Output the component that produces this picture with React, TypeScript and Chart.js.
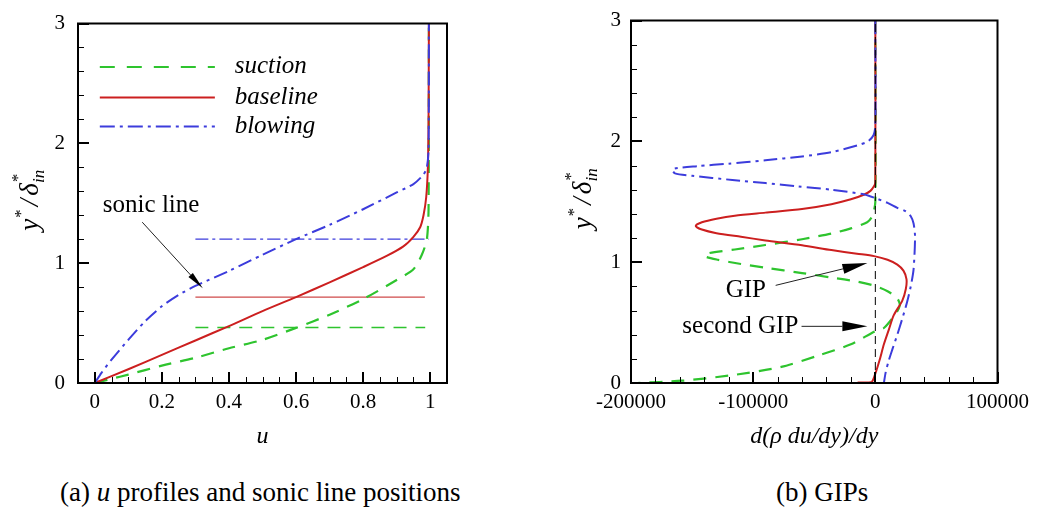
import React, { useEffect, useRef } from 'react';
import { Chart, registerables } from 'chart.js';

Chart.register(...registerables);

const FONT = '"Liberation Serif", "Times New Roman", serif';
const GREEN = '#2ec42e';
const RED = '#cc1f1f';
const BLUE = '#3c3cdc';

// ---------- panel (a): u profiles ----------
const uSuction = [0, 0.05, 0.1, 0.2, 0.3, 0.4, 0.5, 0.6, 0.7, 0.8, 0.9, 0.95, 0.975, 0.99, 0.995, 0.996];
const ySuction = [0, 0.035, 0.07, 0.145, 0.21, 0.29, 0.36, 0.46, 0.57, 0.7, 0.86, 0.95, 1.07, 1.2, 1.45, 3];

const uBaseline = [0, 0.1, 0.2, 0.3, 0.4, 0.5, 0.6, 0.7, 0.8, 0.87, 0.92, 0.95, 0.97, 0.98, 0.988, 0.993, 0.995, 0.996];
const yBaseline = [0, 0.115, 0.235, 0.355, 0.475, 0.6, 0.717, 0.84, 0.967, 1.06, 1.14, 1.22, 1.3, 1.4, 1.55, 1.8, 2.2, 3];

const uBlowing = [0, 0.02, 0.05, 0.1, 0.15, 0.2, 0.25, 0.3, 0.4, 0.5, 0.6, 0.7, 0.8, 0.9, 0.95, 0.98, 0.99, 0.995, 0.996];
const yBlowing = [0, 0.085, 0.195, 0.36, 0.515, 0.64, 0.735, 0.81, 0.935, 1.07, 1.2, 1.32, 1.45, 1.59, 1.66, 1.74, 1.8, 1.95, 3];

// sonic line positions (suction, baseline, blowing)
const sonicStartU = [0.3, 0.3, 0.3];
const sonicEndU = [0.985, 0.984, 0.996];
const sonicY = [0.463, 0.717, 1.2];

const uTickValues = [0, 0.2, 0.4, 0.6, 0.8, 1];
const uTickLabels = ['0', '0.2', '0.4', '0.6', '0.8', '1'];
const yTickValues = [0, 1, 2, 3];
const yTickLabels = ['0', '1', '2', '3'];

// ---------- panel (b): GIPs ----------
const gSuction = [0, 0, -2500, -6700, -20000, -36000, -60000, -90000, -115000, -136000, -140000, -129000, -110000, -90000, -60000, -36000, -15000, -1000, 10000, 18000, 20000, 16000, 7000, 0, -20000, -47000, -77000, -117000, -158000, -195000];
const gySuction = [3, 1.5, 1.38, 1.33, 1.28, 1.237, 1.19, 1.142, 1.105, 1.075, 1.05, 1.02, 0.985, 0.954, 0.91, 0.873, 0.84, 0.806, 0.76, 0.7, 0.64, 0.563, 0.455, 0.43, 0.32, 0.226, 0.133, 0.065, 0.019, 0];

const gBaseline = [0, 0, -1000, -4000, -9000, -20000, -36000, -60000, -90000, -115000, -130000, -142000, -147000, -142000, -130000, -110000, -90000, -60000, -36000, -15000, -1000, 10000, 18000, 23000, 25500, 25000, 22000, 15000, 11000, 7000, 3500, 0, -3000, -14500];
const gyBaseline = [3, 1.66, 1.63, 1.59, 1.56, 1.52, 1.48, 1.44, 1.41, 1.385, 1.36, 1.33, 1.3, 1.27, 1.24, 1.21, 1.18, 1.14, 1.1, 1.07, 1.05, 1.02, 0.98, 0.93, 0.86, 0.78, 0.68, 0.56, 0.44, 0.32, 0.19, 0.078, 0.01, 0.005];

const gBlowing = [0, 0, -1500, -6000, -15000, -36000, -60000, -90000, -120000, -145000, -166000, -164000, -150000, -117000, -90000, -63000, -36000, -9000, 0, 10000, 18000, 25000, 29000, 31300, 32500, 31300, 29000, 26000, 22000, 18000, 14000, 11000, 8500, 7000];
const gyBlowing = [3, 2.13, 2.05, 2.0, 1.965, 1.91, 1.875, 1.843, 1.815, 1.795, 1.77, 1.735, 1.715, 1.68, 1.655, 1.627, 1.6, 1.56, 1.53, 1.49, 1.45, 1.42, 1.38, 1.32, 1.21, 0.94, 0.8, 0.67, 0.53, 0.4, 0.28, 0.186, 0.09, 0];

const gZeroX = [0, 0];
const gZeroY = [0, 3];

const gTickValues = [-200000, -100000, 0, 100000];
const gTickLabels = ['-200000', '-100000', '0', '100000'];

// ---------- helpers ----------
const pts = (xs: number[], ys: number[]) => xs.map((x, i) => ({ x, y: ys[i] }));

function drawArrow(ctx: CanvasRenderingContext2D, x1: number, y1: number, x2: number, y2: number, headLen: number, headW: number) {
  const ang = Math.atan2(y2 - y1, x2 - x1);
  const bx = x2 - headLen * Math.cos(ang);
  const by = y2 - headLen * Math.sin(ang);
  ctx.save();
  ctx.strokeStyle = '#222';
  ctx.fillStyle = '#000';
  ctx.lineWidth = 1;
  ctx.beginPath();
  ctx.moveTo(x1, y1);
  ctx.lineTo(bx, by);
  ctx.stroke();
  ctx.beginPath();
  ctx.moveTo(x2, y2);
  ctx.lineTo(bx + (headW / 2) * Math.sin(ang), by - (headW / 2) * Math.cos(ang));
  ctx.lineTo(bx - (headW / 2) * Math.sin(ang), by + (headW / 2) * Math.cos(ang));
  ctx.closePath();
  ctx.fill();
  ctx.restore();
}

function drawYTitle(ctx: CanvasRenderingContext2D, cx: number, cy: number) {
  ctx.save();
  ctx.translate(cx, cy);
  ctx.rotate(-Math.PI / 2);
  ctx.fillStyle = '#000';
  ctx.textBaseline = 'alphabetic';
  ctx.textAlign = 'left';
  const big = `italic 27px ${FONT}`;
  const small = `italic 17px ${FONT}`;
  ctx.font = big;
  const wy = ctx.measureText('y').width;
  const wsl = ctx.measureText('/').width;
  const wd = ctx.measureText('δ').width;
  ctx.font = small;
  const wst = ctx.measureText('*').width;
  const win = ctx.measureText('in').width;
  const total = wy + wst + 4 + wsl + 3 + wd + Math.max(wst, win);
  let x = -total / 2;
  const base = 8;
  ctx.font = big;
  ctx.fillText('y', x, base);
  x += wy;
  ctx.font = small;
  ctx.fillText('*', x, base - 12);
  x += wst + 4;
  ctx.font = big;
  ctx.fillText('/', x, base);
  x += wsl + 3;
  ctx.fillText('δ', x, base);
  x += wd;
  ctx.font = small;
  ctx.fillText('*', x, base - 15);
  ctx.fillText('in', x, base + 6);
  ctx.restore();
}

type LegendItem = { label: string; color: string; dash: number[]; y: number };

function makeFramePlugin(cfg: {
  xMinor: number[];
  yMinor: number[];
  xMajor: number[];
  yMajor: number[];
  xTitle: string;
  annotate: (chart: any, ctx: CanvasRenderingContext2D) => void;
}) {
  return {
    id: 'frame',
    afterDatasetsDraw(chart: any) {
      cfg.annotate(chart, chart.ctx);
    },
    afterDraw(chart: any) {
      const ctx: CanvasRenderingContext2D = chart.ctx;
      const a = chart.chartArea;
      const xs = chart.scales.x;
      const ys = chart.scales.y;
      ctx.save();
      ctx.strokeStyle = '#000';
      // minor ticks
      ctx.lineWidth = 1;
      ctx.beginPath();
      cfg.xMinor.forEach((v) => {
        const px = Math.round(xs.getPixelForValue(v)) + 0.5;
        ctx.moveTo(px, a.bottom);
        ctx.lineTo(px, a.bottom - 6);
      });
      cfg.yMinor.forEach((v) => {
        const py = Math.round(ys.getPixelForValue(v)) + 0.5;
        ctx.moveTo(a.left, py);
        ctx.lineTo(a.left + 6, py);
      });
      ctx.stroke();
      // major ticks
      ctx.lineWidth = 2;
      ctx.beginPath();
      cfg.xMajor.forEach((v) => {
        const px = Math.round(xs.getPixelForValue(v));
        ctx.moveTo(px, a.bottom);
        ctx.lineTo(px, a.bottom - 11);
      });
      cfg.yMajor.forEach((v) => {
        const py = Math.round(ys.getPixelForValue(v));
        ctx.moveTo(a.left, py);
        ctx.lineTo(a.left + 11, py);
      });
      ctx.stroke();
      // box
      ctx.lineWidth = 2;
      ctx.strokeRect(a.left, a.top, a.right - a.left, a.bottom - a.top);
      // titles
      ctx.fillStyle = '#000';
      ctx.font = `italic 24px ${FONT}`;
      ctx.textAlign = 'center';
      ctx.textBaseline = 'middle';
      ctx.fillText(cfg.xTitle, (a.left + a.right) / 2, a.bottom + 54);
      drawYTitle(ctx, a.left - 48, (a.top + a.bottom) / 2 - 3);
      ctx.restore();
    },
  };
}

const range = (from: number, to: number, step: number) => {
  const out: number[] = [];
  const n = Math.round((to - from) / step);
  for (let i = 0; i <= n; i++) out.push(+(from + i * step).toFixed(6));
  return out;
};

const legendItems: LegendItem[] = [
  { label: 'suction', color: GREEN, dash: [15, 12], y: 2.638 },
  { label: 'baseline', color: RED, dash: [], y: 2.382 },
  { label: 'blowing', color: BLUE, dash: [15, 5, 3, 5], y: 2.14 },
];
const legendLineU = [0.015, 0.358];
const legendTextU = 0.417;

function curve(data: { x: number; y: number }[], color: string, dash: number[], width: number) {
  return {
    data,
    borderColor: color,
    borderWidth: width,
    borderDash: dash,
    pointRadius: 0,
    tension: 0.25,
    fill: false,
  };
}

function baseOptions(xMin: number, xMax: number, xTicks: number[], xLabels: string[], yPadWidth: number, yLabelPad: number, padRight: number, plugin: any) {
  return {
    type: 'line' as const,
    options: {
      responsive: false,
      animation: false as const,
      devicePixelRatio: 1,
      layout: { padding: { left: 0, right: padRight, top: 12, bottom: 0 } },
      plugins: { legend: { display: false }, tooltip: { enabled: false } },
      scales: {
        x: {
          type: 'linear' as const,
          min: xMin,
          max: xMax,
          grid: { display: false, drawTicks: false },
          border: { display: false },
          afterBuildTicks: (s: any) => {
            s.ticks = xTicks.map((v) => ({ value: v }));
          },
          afterFit: (s: any) => {
            s.height = 67;
          },
          ticks: {
            autoSkip: false,
            maxRotation: 0,
            padding: 9,
            color: '#000',
            font: { family: FONT, size: 21, lineHeight: 1 },
            callback: (v: any) => {
              const i = xTicks.indexOf(Number(v));
              return i >= 0 ? xLabels[i] : '';
            },
          },
        },
        y: {
          type: 'linear' as const,
          min: 0,
          max: 3,
          grid: { display: false, drawTicks: false },
          border: { display: false },
          afterBuildTicks: (s: any) => {
            s.ticks = yTickValues.map((v) => ({ value: v }));
          },
          afterFit: (s: any) => {
            s.width = yPadWidth;
          },
          ticks: {
            autoSkip: false,
            padding: yLabelPad,
            color: '#000',
            font: { family: FONT, size: 21, lineHeight: 1 },
            callback: (v: any) => {
              const i = yTickValues.indexOf(Number(v));
              return i >= 0 ? yTickLabels[i] : '';
            },
          },
        },
      },
    },
    plugins: [plugin],
  };
}

function PanelA() {
  const ref = useRef<HTMLCanvasElement>(null);
  useEffect(() => {
    if (!ref.current) return;
    const plugin = makeFramePlugin({
      xMinor: range(0, 1, 0.05),
      yMinor: range(0, 3, 0.2),
      xMajor: uTickValues,
      yMajor: yTickValues,
      xTitle: 'u',
      annotate: (chart, ctx) => {
        const xs = chart.scales.x;
        const ys = chart.scales.y;
        ctx.save();
        legendItems.forEach((it) => {
          const py = ys.getPixelForValue(it.y);
          ctx.strokeStyle = it.color;
          ctx.lineWidth = 2;
          ctx.setLineDash(it.dash);
          ctx.beginPath();
          ctx.moveTo(xs.getPixelForValue(legendLineU[0]), py);
          ctx.lineTo(xs.getPixelForValue(legendLineU[1]), py);
          ctx.stroke();
          ctx.setLineDash([]);
          ctx.fillStyle = '#000';
          ctx.font = `italic 25px ${FONT}`;
          ctx.textAlign = 'left';
          ctx.textBaseline = 'middle';
          ctx.fillText(it.label, xs.getPixelForValue(legendTextU), py);
        });
        ctx.font = `25px ${FONT}`;
        ctx.textAlign = 'center';
        ctx.textBaseline = 'middle';
        ctx.fillStyle = '#000';
        ctx.fillText('sonic line', xs.getPixelForValue(0.168), ys.getPixelForValue(1.48));
        drawArrow(ctx, xs.getPixelForValue(0.1415), ys.getPixelForValue(1.342), xs.getPixelForValue(0.322), ys.getPixelForValue(0.79), 18, 6);
        ctx.restore();
      },
    });
    const cfg: any = baseOptions(-0.05, 1.05, uTickValues, uTickLabels, 78, 13, 23, plugin);
    // dataset 0 is drawn on top
    cfg.data = {
      datasets: [
        curve(pts(uBlowing, yBlowing), BLUE, [14, 5, 3, 5], 2),
        curve(pts(uBaseline, yBaseline), RED, [], 2),
        curve(pts(uSuction, ySuction), GREEN, [13, 9], 2.2),
        curve(pts([sonicStartU[0], sonicEndU[0]], [sonicY[0], sonicY[0]]), GREEN, [13, 9], 1.5),
        curve(pts([sonicStartU[1], sonicEndU[1]], [sonicY[1], sonicY[1]]), '#cf4a4a', [], 1.4),
        curve(pts([sonicStartU[2], sonicEndU[2]], [sonicY[2], sonicY[2]]), BLUE, [13, 4, 3, 4], 1.2),
      ],
    };
    const chart = new Chart(ref.current, cfg);
    return () => chart.destroy();
  }, []);
  return <canvas ref={ref} width={470} height={450} style={{ position: 'absolute', left: 0, top: 0 }} />;
}

function PanelB() {
  const ref = useRef<HTMLCanvasElement>(null);
  useEffect(() => {
    if (!ref.current) return;
    const plugin = makeFramePlugin({
      xMinor: range(-200000, 100000, 20000),
      yMinor: range(0, 3, 0.2),
      xMajor: gTickValues,
      yMajor: yTickValues,
      xTitle: 'd(ρ du/dy)/dy',
      annotate: (chart, ctx) => {
        const xs = chart.scales.x;
        const ys = chart.scales.y;
        ctx.save();
        ctx.font = `25px ${FONT}`;
        ctx.textAlign = 'center';
        ctx.textBaseline = 'middle';
        ctx.fillStyle = '#000';
        ctx.fillText('GIP', xs.getPixelForValue(-106000), ys.getPixelForValue(0.765));
        ctx.fillText('second GIP', xs.getPixelForValue(-110500), ys.getPixelForValue(0.465));
        drawArrow(ctx, xs.getPixelForValue(-81600), ys.getPixelForValue(0.808), xs.getPixelForValue(-6500), ys.getPixelForValue(0.994), 25, 10);
        drawArrow(ctx, xs.getPixelForValue(-60400), ys.getPixelForValue(0.469), xs.getPixelForValue(-6500), ys.getPixelForValue(0.469), 25, 10);
        ctx.restore();
      },
    });
    const cfg: any = baseOptions(-200000, 100000, gTickValues, gTickLabels, 111, 10, 36, plugin);
    // dataset 0 is drawn on top
    cfg.data = {
      datasets: [
        { ...curve(pts(gZeroX, gZeroY), '#000', [8, 5], 1), tension: 0 },
        curve(pts(gBlowing, gyBlowing), BLUE, [14, 5, 3, 5], 2),
        curve(pts(gBaseline, gyBaseline), RED, [], 2),
        curve(pts(gSuction, gySuction), GREEN, [13, 9], 2.2),
      ],
    };
    const chart = new Chart(ref.current, cfg);
    return () => chart.destroy();
  }, []);
  return <canvas ref={ref} width={518} height={450} style={{ position: 'absolute', left: 520, top: 0 }} />;
}

export default function App() {
  const cap: React.CSSProperties = {
    position: 'absolute',
    top: 477,
    fontFamily: FONT,
    fontSize: 27,
    lineHeight: '30px',
    color: '#000',
    whiteSpace: 'nowrap',
  };
  return (
    <div style={{ position: 'fixed', left: 0, top: 0, width: 1038, height: 526, background: '#fff', overflow: 'hidden' }}>
      <PanelA />
      <PanelB />
      <div style={{ ...cap, left: 60 }}>
        (a) <i>u</i> profiles and sonic line positions
      </div>
      <div style={{ ...cap, left: 776 }}>(b) GIPs</div>
    </div>
  );
}
